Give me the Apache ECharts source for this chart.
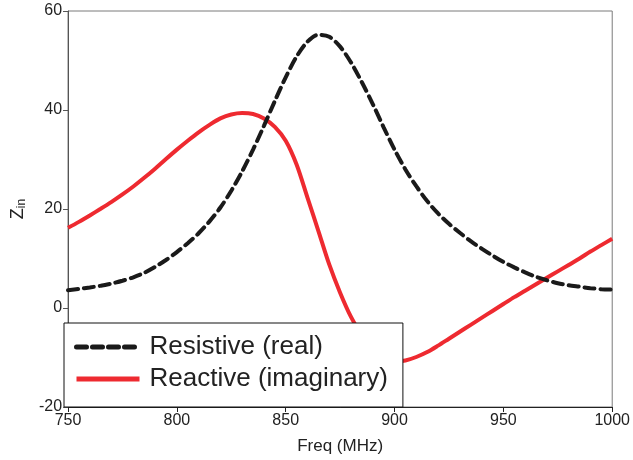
<!DOCTYPE html>
<html>
<head>
<meta charset="utf-8">
<script src="https://cdn.jsdelivr.net/npm/echarts@6/dist/echarts.min.js"></script>
<style>
  html, body { margin: 0; padding: 0; background: #fff; }
  #chart { width: 633px; height: 460px; }
</style>
</head>
<body>
<div id="chart"></div>
<script>
// frequency points (MHz)
const freq = [750, 755, 760, 765, 770, 775, 780, 785, 790, 795, 800, 805, 810, 815, 820, 825, 830, 835, 840, 845,
  850, 855, 860, 865, 870, 875, 880, 885, 890, 895, 900, 905, 910, 915, 920, 925, 930, 935, 940, 945,
  950, 955, 960, 965, 970, 975, 980, 985, 990, 995, 1000];
// real part of Zin
const resistive = [3.6, 3.85, 4.15, 4.5, 4.95, 5.5, 6.2, 7.1, 8.3, 9.7, 11.3, 13.1, 15.1, 17.5, 20.3, 23.7, 27.6, 32.0, 36.8, 41.8,
  46.6, 50.8, 53.8, 55.2, 54.8, 52.8, 49.6, 45.6, 41.2, 36.5, 32.0, 28.0, 24.6, 21.6, 19.1, 17.0, 15.2, 13.5, 12.0, 10.6,
  9.3, 8.2, 7.2, 6.3, 5.6, 5.0, 4.6, 4.3, 4.0, 3.8, 3.7];
// imaginary part of Zin
const reactive = [16.2, 17.4, 18.7, 20.05, 21.45, 22.95, 24.55, 26.3, 28.15, 30.1, 32.0, 33.8, 35.5, 37.0, 38.3, 39.1, 39.4, 39.2, 38.3, 36.6,
  33.8, 29.0, 22.3, 15.6, 8.8, 3.1, -1.8, -5.6, -8.5, -10.2, -10.8, -10.6, -9.9, -8.9, -7.6, -6.2, -4.8, -3.4, -2.0, -0.6,
  0.8, 2.2, 3.5, 4.8, 6.1, 7.4, 8.7, 10.0, 11.4, 12.7, 14.0];

const toPairs = vals => freq.map((f, i) => [f, vals[i]]);

const myChart = echarts.init(document.getElementById('chart'));
const option = {
  animation: false,
  textStyle: { fontFamily: 'Liberation Sans, Arial, sans-serif' },
  grid: {
    left: 65, right: 17, top: 11, bottom: 53,
    show: true, borderColor: '#7a7a7a', borderWidth: 1
  },
  legend: {
    orient: 'vertical',
    left: 64, top: 323,
    padding: [11, 15, 15, 10],
    backgroundColor: '#fff',
    borderColor: '#111',
    borderWidth: 1,
    borderRadius: 0,
    itemWidth: 63,
    itemHeight: 26,
    itemGap: 6,
    itemStyle: { opacity: 0 },
    lineStyle: { width: 5 },
    textStyle: { fontSize: 26, color: '#222', padding: [0, 0, 0, 5] },
    z: 10,
    data: ['Resistive (real)', 'Reactive (imaginary)']
  },
  xAxis: {
    type: 'value',
    min: 750, max: 1000, interval: 50,
    name: 'Freq (MHz)',
    nameLocation: 'middle',
    nameGap: 31,
    nameTextStyle: { fontSize: 17, color: '#222' },
    axisLine: { onZero: false, lineStyle: { color: '#222', width: 1 } },
    axisTick: { show: true, inside: false, length: 5, lineStyle: { color: '#222' } },
    axisLabel: { fontSize: 16, color: '#222', margin: 6, formatter: v => String(v) },
    splitLine: { show: false }
  },
  yAxis: {
    type: 'value',
    min: -20, max: 60, interval: 20,
    name: '{z|Z}{s|in}',
    nameLocation: 'middle',
    nameRotate: 90,
    nameGap: 33,
    nameTextStyle: {
      rich: {
        z: { fontSize: 18, color: '#222', lineHeight: 20 },
        s: { fontSize: 12, color: '#222', verticalAlign: 'bottom', lineHeight: 14, padding: [8, 0, 0, 0] }
      }
    },
    axisLine: { show: true, lineStyle: { color: '#555', width: 1 } },
    axisTick: { show: true, inside: false, length: 5, lineStyle: { color: '#555' } },
    axisLabel: { fontSize: 16, color: '#222', margin: 6 },
    splitLine: { show: false }
  },
  series: [
    {
      name: 'Resistive (real)',
      type: 'line',
      data: toPairs(resistive),
      smooth: 0.3,
      showSymbol: false,
      symbol: 'none',
      lineStyle: { color: '#1a1a1a', width: 4, type: [10, 6], cap: 'round' },
      itemStyle: { color: '#1a1a1a' },
      z: 3
    },
    {
      name: 'Reactive (imaginary)',
      type: 'line',
      data: toPairs(reactive),
      smooth: 0.3,
      showSymbol: false,
      symbol: 'none',
      lineStyle: { color: '#ee2a30', width: 4 },
      itemStyle: { color: '#ee2a30' },
      z: 2
    }
  ]
};
myChart.setOption(option);
window.addEventListener('resize', () => {
  myChart.resize();
});
</script>
</body>
</html>
